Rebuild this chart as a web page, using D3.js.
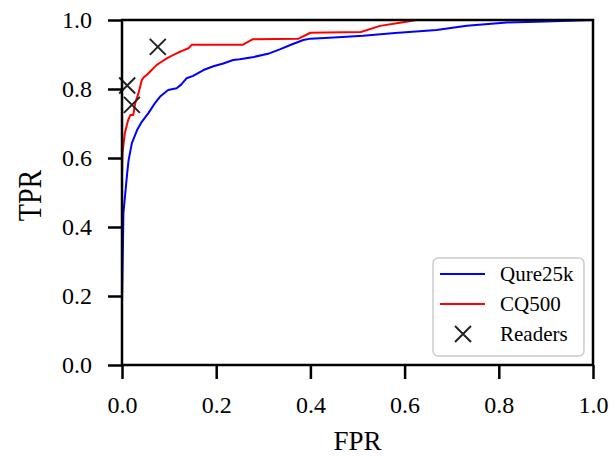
<!DOCTYPE html>
<html>
<head>
<meta charset="utf-8">
<script src="https://cdn.jsdelivr.net/npm/d3@7"></script>
<style>
  html, body { margin: 0; padding: 0; background: #fff; }
  svg text { font-family: "Liberation Serif", "Times New Roman", serif; fill: #000; }
</style>
</head>
<body>
<svg id="chart" width="614" height="460"></svg>
<script>
// ROC curve for the Qure25k set
const qureFPR = [0, 0, 0.002, 0.003, 0.007, 0.011, 0.014, 0.021, 0.032, 0.042, 0.056, 0.070, 0.081,
  0.098, 0.116, 0.125, 0.137, 0.151, 0.173, 0.194, 0.215, 0.236, 0.250, 0.280, 0.310, 0.335, 0.360,
  0.385, 0.400, 0.450, 0.512, 0.580, 0.668, 0.732, 0.817, 0.900, 0.950, 1.0];
const qureTPR = [0, 0.18, 0.35, 0.44, 0.498, 0.556, 0.594, 0.643, 0.681, 0.705, 0.730, 0.759, 0.778,
  0.797, 0.802, 0.812, 0.831, 0.838, 0.855, 0.866, 0.874, 0.884, 0.886, 0.893, 0.902, 0.915, 0.929,
  0.942, 0.946, 0.949, 0.954, 0.962, 0.971, 0.983, 0.993, 0.996, 0.998, 1.0];

// ROC curve for the CQ500 set
const cqFPR = [0, 0, 0.001, 0.006, 0.013, 0.018, 0.024, 0.028, 0.035, 0.042, 0.047, 0.052, 0.063,
  0.068, 0.074, 0.084, 0.095, 0.105, 0.116, 0.123, 0.130, 0.141, 0.148, 0.256, 0.277, 0.375, 0.400,
  0.507, 0.548, 0.590, 0.626, 1.0];
const cqTPR = [0, 0.55, 0.614, 0.672, 0.710, 0.725, 0.725, 0.759, 0.788, 0.826, 0.835, 0.840, 0.855,
  0.862, 0.870, 0.879, 0.889, 0.896, 0.903, 0.908, 0.912, 0.918, 0.928, 0.928, 0.944, 0.946, 0.963,
  0.965, 0.983, 0.992, 1.0, 1.0];

// Operating points of the human readers
const readerFPR = [0.011, 0.021, 0.076];
const readerTPR = [0.810, 0.754, 0.922];

const tickValues = [0, 0.2, 0.4, 0.6, 0.8, 1.0];
const seriesNames = ["Qure25k", "CQ500", "Readers"];
const axisTitles = { x: "FPR", y: "TPR" };

const svg = d3.select("#chart");
const m = { left: 122, right: 593, top: 20, bottom: 365 };

const x = d3.scaleLinear().domain([0, 1]).range([m.left, m.right]);
const y = d3.scaleLinear().domain([0, 1]).range([m.bottom, m.top]);

const line = d3.line().x(d => x(d[0])).y(d => y(d[1]));

svg.append("defs").append("clipPath").attr("id", "plotClip")
  .append("rect").attr("x", m.left).attr("y", m.top - 2)
  .attr("width", m.right - m.left).attr("height", m.bottom - m.top + 4);

const plot = svg.append("g").attr("clip-path", "url(#plotClip)");

plot.append("path")
  .datum(qureFPR.map((f, i) => [f, qureTPR[i]]))
  .attr("d", line).attr("fill", "none")
  .attr("stroke", "#0000ff").attr("stroke-width", 2).attr("stroke-linejoin", "round");

plot.append("path")
  .datum(cqFPR.map((f, i) => [f, cqTPR[i]]))
  .attr("d", line).attr("fill", "none")
  .attr("stroke", "#ff0000").attr("stroke-width", 2).attr("stroke-linejoin", "round");

// "x" shaped markers
function cross(g, cx, cy, r) {
  g.append("path")
    .attr("d", `M${cx - r},${cy - r}L${cx + r},${cy + r}M${cx - r},${cy + r}L${cx + r},${cy - r}`)
    .attr("stroke", "#222").attr("stroke-width", 2).attr("fill", "none");
}
const readers = svg.append("g");
readerFPR.forEach((f, i) => cross(readers, x(f), y(readerTPR[i]), 8));

// Axes
const fmt = d3.format(".1f");
const xAxis = svg.append("g").attr("transform", `translate(0,${m.bottom})`)
  .call(d3.axisBottom(x).tickValues(tickValues).tickFormat(fmt).tickSize(14).tickPadding(17));
const yAxis = svg.append("g").attr("transform", `translate(${m.left},0)`)
  .call(d3.axisLeft(y).tickValues(tickValues).tickFormat(fmt).tickSize(14).tickPadding(16));

[xAxis, yAxis].forEach(a => {
  a.select(".domain").remove();
  a.selectAll(".tick line").attr("stroke", "#000").attr("stroke-width", 2.5);
  a.selectAll(".tick text").style("font-size", "24px")
    .style("font-family", '"Liberation Serif", serif').attr("fill", "#000");
});

// Frame
svg.append("rect").attr("x", m.left).attr("y", m.top)
  .attr("width", m.right - m.left).attr("height", m.bottom - m.top)
  .attr("fill", "none").attr("stroke", "#000").attr("stroke-width", 2.5);

// Axis titles
svg.append("text").attr("x", (m.left + m.right) / 2).attr("y", 450)
  .attr("text-anchor", "middle").style("font-size", "27px").text(axisTitles.x);
svg.append("text")
  .attr("transform", `translate(41,${(m.top + m.bottom) / 2 + 3}) scale(1.2,1) rotate(-90)`)
  .attr("text-anchor", "middle").style("font-size", "28px").text(axisTitles.y);

// Legend
const lg = svg.append("g");
lg.append("rect").attr("x", 433).attr("y", 258).attr("width", 151).attr("height", 98)
  .attr("rx", 5).attr("fill", "#fff").attr("fill-opacity", 0.85)
  .attr("stroke", "#cccccc").attr("stroke-width", 1.5);
const rowsY = [274, 304, 334];
const colors = ["#0000ff", "#ff0000"];
seriesNames.forEach((name, i) => {
  if (i < 2) {
    lg.append("line").attr("x1", 440).attr("x2", 485).attr("y1", rowsY[i]).attr("y2", rowsY[i])
      .attr("stroke", colors[i]).attr("stroke-width", 2);
  } else {
    cross(lg, 463, rowsY[i], 8);
  }
  lg.append("text").attr("x", 500).attr("y", rowsY[i]).attr("dy", "0.35em")
    .style("font-size", "21px").text(name);
});
</script>
</body>
</html>
